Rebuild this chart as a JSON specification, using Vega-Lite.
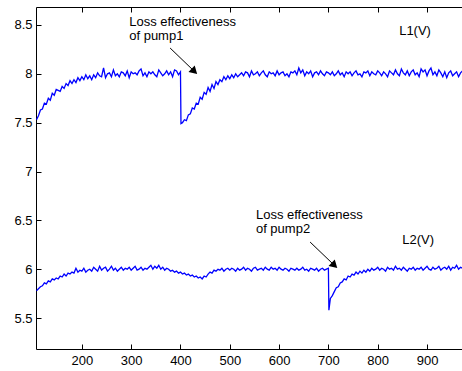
{
  "$schema": "https://vega.github.io/schema/vega-lite/v6.json",
  "width": 428,
  "height": 342,
  "autosize": {"type": "none"},
  "padding": {"left": 36, "top": 7, "right": 0, "bottom": 22},
  "background": "white",
  "config": {
    "view": {"stroke": "black", "strokeWidth": 1},
    "font": "Liberation Sans",
    "axis": {"grid": false, "domain": false, "tickColor": "black", "tickSize": -5, "labelColor": "black", "labelFont": "Liberation Sans", "labelFontSize": 13, "title": null}
  },
  "datasets": {
    "l1": [
      {"x":108,"y":7.53},{"x":112,"y":7.57},{"x":116,"y":7.63},{"x":120,"y":7.64},{"x":124,"y":7.70},{"x":128,"y":7.69},{"x":132,"y":7.75},{"x":136,"y":7.73},{"x":140,"y":7.80},{"x":144,"y":7.78},
      {"x":148,"y":7.84},{"x":152,"y":7.83},{"x":156,"y":7.82},{"x":160,"y":7.87},{"x":164,"y":7.85},{"x":168,"y":7.90},{"x":172,"y":7.88},{"x":176,"y":7.93},{"x":180,"y":7.90},{"x":184,"y":7.94},
      {"x":188,"y":7.91},{"x":192,"y":7.96},{"x":196,"y":7.93},{"x":200,"y":7.97},{"x":204,"y":7.94},{"x":208,"y":7.99},{"x":212,"y":7.95},{"x":216,"y":7.98},{"x":220,"y":7.94},{"x":224,"y":7.99},
      {"x":228,"y":7.96},{"x":232,"y":8.01},{"x":236,"y":7.98},{"x":240,"y":7.97},{"x":244,"y":8.06},{"x":248,"y":7.96},{"x":252,"y":8.00},{"x":256,"y":8.01},{"x":260,"y":7.97},{"x":264,"y":8.04},
      {"x":268,"y":7.98},{"x":272,"y":8.00},{"x":276,"y":7.97},{"x":280,"y":8.02},{"x":284,"y":8.01},{"x":288,"y":7.98},{"x":292,"y":8.03},{"x":296,"y":7.96},{"x":300,"y":8.02},{"x":304,"y":8.00},
      {"x":308,"y":8.01},{"x":312,"y":7.99},{"x":316,"y":8.03},{"x":320,"y":8.05},{"x":324,"y":7.98},{"x":328,"y":8.01},{"x":332,"y":7.97},{"x":336,"y":8.02},{"x":340,"y":8.00},{"x":344,"y":8.02},
      {"x":348,"y":7.99},{"x":352,"y":7.97},{"x":356,"y":8.04},{"x":360,"y":8.01},{"x":364,"y":7.98},{"x":368,"y":8.00},{"x":372,"y":8.03},{"x":376,"y":7.99},{"x":380,"y":8.02},{"x":384,"y":7.97},
      {"x":388,"y":8.04},{"x":392,"y":8.03},{"x":396,"y":7.99},{"x":400,"y":8.02},{"x":401,"y":7.49},{"x":404,"y":7.50},{"x":408,"y":7.53},{"x":412,"y":7.52},{"x":416,"y":7.58},{"x":420,"y":7.59},
      {"x":424,"y":7.65},{"x":428,"y":7.64},{"x":432,"y":7.70},{"x":436,"y":7.69},{"x":440,"y":7.76},{"x":444,"y":7.74},{"x":448,"y":7.81},{"x":452,"y":7.79},{"x":456,"y":7.86},{"x":460,"y":7.82},
      {"x":464,"y":7.89},{"x":468,"y":7.85},{"x":472,"y":7.92},{"x":476,"y":7.89},{"x":480,"y":7.94},{"x":484,"y":7.92},{"x":488,"y":7.97},{"x":492,"y":7.94},{"x":496,"y":7.98},{"x":500,"y":7.95},
      {"x":504,"y":7.99},{"x":508,"y":7.96},{"x":512,"y":8.00},{"x":516,"y":7.97},{"x":520,"y":7.99},{"x":524,"y":8.01},{"x":528,"y":7.98},{"x":532,"y":8.02},{"x":536,"y":8.01},{"x":540,"y":7.97},
      {"x":544,"y":8.03},{"x":548,"y":7.99},{"x":552,"y":8.00},{"x":556,"y":8.02},{"x":560,"y":7.98},{"x":564,"y":8.01},{"x":568,"y":8.03},{"x":572,"y":7.99},{"x":576,"y":7.97},{"x":580,"y":8.02},
      {"x":584,"y":8.00},{"x":588,"y":8.01},{"x":592,"y":7.98},{"x":596,"y":8.03},{"x":600,"y":7.99},{"x":604,"y":8.01},{"x":608,"y":8.02},{"x":612,"y":7.98},{"x":616,"y":8.00},{"x":620,"y":7.97},
      {"x":624,"y":8.02},{"x":628,"y":8.01},{"x":632,"y":8.03},{"x":636,"y":7.99},{"x":640,"y":8.06},{"x":644,"y":8.01},{"x":648,"y":8.04},{"x":652,"y":7.98},{"x":656,"y":8.02},{"x":660,"y":8.00},
      {"x":664,"y":8.03},{"x":668,"y":7.97},{"x":672,"y":8.01},{"x":676,"y":8.02},{"x":680,"y":7.99},{"x":684,"y":8.03},{"x":688,"y":8.00},{"x":692,"y":7.98},{"x":696,"y":8.02},{"x":700,"y":8.01},
      {"x":704,"y":7.99},{"x":708,"y":8.02},{"x":712,"y":7.98},{"x":716,"y":8.00},{"x":720,"y":8.03},{"x":724,"y":7.99},{"x":728,"y":8.01},{"x":732,"y":7.97},{"x":736,"y":8.02},{"x":740,"y":8.00},
      {"x":744,"y":8.02},{"x":748,"y":7.98},{"x":752,"y":8.01},{"x":756,"y":8.03},{"x":760,"y":7.99},{"x":764,"y":8.00},{"x":768,"y":7.97},{"x":772,"y":8.02},{"x":776,"y":8.01},{"x":780,"y":8.03},
      {"x":784,"y":7.98},{"x":788,"y":8.02},{"x":792,"y":8.00},{"x":796,"y":7.99},{"x":800,"y":8.03},{"x":804,"y":8.01},{"x":808,"y":7.98},{"x":812,"y":8.02},{"x":816,"y":8.00},{"x":820,"y":7.97},
      {"x":824,"y":8.03},{"x":828,"y":8.01},{"x":832,"y":7.99},{"x":836,"y":8.04},{"x":840,"y":8.00},{"x":844,"y":7.98},{"x":848,"y":8.05},{"x":852,"y":8.01},{"x":856,"y":7.99},{"x":860,"y":8.03},
      {"x":864,"y":7.98},{"x":868,"y":8.02},{"x":872,"y":8.04},{"x":876,"y":7.99},{"x":880,"y":8.01},{"x":884,"y":7.97},{"x":888,"y":8.05},{"x":892,"y":8.02},{"x":896,"y":8.04},{"x":900,"y":7.98},
      {"x":904,"y":8.03},{"x":908,"y":8.06},{"x":912,"y":7.99},{"x":916,"y":8.02},{"x":920,"y":7.98},{"x":924,"y":8.04},{"x":928,"y":8.01},{"x":932,"y":7.97},{"x":936,"y":8.02},{"x":940,"y":7.96},
      {"x":944,"y":8.01},{"x":948,"y":8.03},{"x":952,"y":7.98},{"x":956,"y":8.00},{"x":960,"y":8.02},{"x":964,"y":7.97},{"x":968,"y":8.01},{"x":972,"y":8.03},{"x":976,"y":7.99}
    ],
    "l2": [
      {"x":108,"y":5.78},{"x":112,"y":5.80},{"x":116,"y":5.82},{"x":120,"y":5.83},{"x":124,"y":5.86},{"x":128,"y":5.85},{"x":132,"y":5.88},{"x":136,"y":5.87},{"x":140,"y":5.90},{"x":144,"y":5.89},
      {"x":148,"y":5.91},{"x":152,"y":5.90},{"x":156,"y":5.93},{"x":160,"y":5.92},{"x":164,"y":5.95},{"x":168,"y":5.93},{"x":172,"y":5.96},{"x":176,"y":5.95},{"x":180,"y":5.97},{"x":184,"y":5.96},
      {"x":188,"y":6.01},{"x":192,"y":5.97},{"x":196,"y":5.99},{"x":200,"y":5.98},{"x":204,"y":6.01},{"x":208,"y":5.97},{"x":212,"y":5.99},{"x":216,"y":6.00},{"x":220,"y":5.98},{"x":224,"y":6.02},
      {"x":228,"y":6.00},{"x":232,"y":5.98},{"x":236,"y":6.03},{"x":240,"y":5.99},{"x":244,"y":6.01},{"x":248,"y":6.02},{"x":252,"y":5.98},{"x":256,"y":6.00},{"x":260,"y":6.03},{"x":264,"y":5.99},
      {"x":268,"y":6.01},{"x":272,"y":5.98},{"x":276,"y":6.00},{"x":280,"y":6.02},{"x":284,"y":5.99},{"x":288,"y":6.01},{"x":292,"y":6.00},{"x":296,"y":6.02},{"x":300,"y":5.99},{"x":304,"y":6.01},
      {"x":308,"y":6.03},{"x":312,"y":5.99},{"x":316,"y":6.00},{"x":320,"y":6.02},{"x":324,"y":5.99},{"x":328,"y":6.01},{"x":332,"y":6.00},{"x":336,"y":6.02},{"x":340,"y":6.04},{"x":344,"y":6.00},
      {"x":348,"y":6.03},{"x":352,"y":6.01},{"x":356,"y":6.04},{"x":360,"y":6.00},{"x":364,"y":6.02},{"x":368,"y":5.99},{"x":372,"y":6.01},{"x":376,"y":6.00},{"x":380,"y":5.98},{"x":384,"y":5.99},
      {"x":388,"y":5.97},{"x":392,"y":5.98},{"x":396,"y":5.96},{"x":400,"y":5.97},{"x":404,"y":5.95},{"x":408,"y":5.96},{"x":412,"y":5.94},{"x":416,"y":5.95},{"x":420,"y":5.93},{"x":424,"y":5.94},
      {"x":428,"y":5.92},{"x":432,"y":5.93},{"x":436,"y":5.91},{"x":440,"y":5.92},{"x":444,"y":5.90},{"x":448,"y":5.93},{"x":452,"y":5.92},{"x":456,"y":5.95},{"x":460,"y":5.97},{"x":464,"y":5.96},
      {"x":468,"y":5.99},{"x":472,"y":5.98},{"x":476,"y":6.00},{"x":480,"y":5.99},{"x":484,"y":6.01},{"x":488,"y":5.98},{"x":492,"y":6.00},{"x":496,"y":6.01},{"x":500,"y":5.99},{"x":504,"y":6.01},
      {"x":508,"y":6.00},{"x":512,"y":5.98},{"x":516,"y":6.01},{"x":520,"y":5.99},{"x":524,"y":6.00},{"x":528,"y":6.02},{"x":532,"y":5.99},{"x":536,"y":6.01},{"x":540,"y":6.00},{"x":544,"y":5.98},
      {"x":548,"y":6.01},{"x":552,"y":6.02},{"x":556,"y":5.99},{"x":560,"y":6.00},{"x":564,"y":6.01},{"x":568,"y":5.99},{"x":572,"y":6.02},{"x":576,"y":6.00},{"x":580,"y":5.99},{"x":584,"y":6.02},
      {"x":588,"y":6.00},{"x":592,"y":6.01},{"x":596,"y":5.99},{"x":600,"y":6.02},{"x":604,"y":6.00},{"x":608,"y":5.99},{"x":612,"y":6.01},{"x":616,"y":6.00},{"x":620,"y":5.98},{"x":624,"y":6.01},
      {"x":628,"y":6.00},{"x":632,"y":5.99},{"x":636,"y":6.01},{"x":640,"y":5.99},{"x":644,"y":6.00},{"x":648,"y":6.02},{"x":652,"y":5.99},{"x":656,"y":6.00},{"x":660,"y":5.98},{"x":664,"y":6.01},
      {"x":668,"y":6.00},{"x":672,"y":5.99},{"x":676,"y":6.01},{"x":680,"y":5.98},{"x":684,"y":6.00},{"x":688,"y":6.01},{"x":692,"y":5.99},{"x":696,"y":6.00},{"x":700,"y":6.01},{"x":701,"y":5.58},
      {"x":704,"y":5.70},{"x":708,"y":5.73},{"x":712,"y":5.77},{"x":716,"y":5.81},{"x":720,"y":5.82},{"x":724,"y":5.86},{"x":728,"y":5.87},{"x":732,"y":5.90},{"x":736,"y":5.89},{"x":740,"y":5.93},
      {"x":744,"y":5.92},{"x":748,"y":5.95},{"x":752,"y":5.94},{"x":756,"y":5.97},{"x":760,"y":5.95},{"x":764,"y":5.98},{"x":768,"y":5.96},{"x":772,"y":5.99},{"x":776,"y":5.97},{"x":780,"y":6.00},
      {"x":784,"y":5.98},{"x":788,"y":6.01},{"x":792,"y":5.99},{"x":796,"y":6.00},{"x":800,"y":6.02},{"x":804,"y":5.99},{"x":808,"y":6.01},{"x":812,"y":6.00},{"x":816,"y":5.98},{"x":820,"y":6.02},
      {"x":824,"y":6.00},{"x":828,"y":6.01},{"x":832,"y":5.99},{"x":836,"y":6.03},{"x":840,"y":6.00},{"x":844,"y":6.01},{"x":848,"y":5.99},{"x":852,"y":6.02},{"x":856,"y":6.00},{"x":860,"y":5.98},
      {"x":864,"y":6.01},{"x":868,"y":6.00},{"x":872,"y":6.02},{"x":876,"y":5.99},{"x":880,"y":6.01},{"x":884,"y":6.00},{"x":888,"y":6.02},{"x":892,"y":5.99},{"x":896,"y":6.01},{"x":900,"y":6.03},
      {"x":904,"y":6.00},{"x":908,"y":5.99},{"x":912,"y":6.02},{"x":916,"y":6.00},{"x":920,"y":6.01},{"x":924,"y":6.03},{"x":928,"y":5.99},{"x":932,"y":6.01},{"x":936,"y":6.02},{"x":940,"y":6.00},
      {"x":944,"y":6.03},{"x":948,"y":5.99},{"x":952,"y":6.02},{"x":956,"y":6.01},{"x":960,"y":6.04},{"x":964,"y":6.00},{"x":968,"y":6.02},{"x":972,"y":6.01},{"x":976,"y":6.03}
    ],
    "notes": [
      {"x":296,"y":8.489,"t":["Loss effectiveness","of pump1"]},
      {"x":553,"y":6.513,"t":["Loss effectiveness","of pump2"]},
      {"x":843.5,"y":8.397,"t":["L1(V)"]},
      {"x":849.6,"y":6.257,"t":["L2(V)"]}
    ],
    "arrows": [
      {"x":379,"y":8.264,"x2":426.3,"y2":8.034},
      {"x":662.9,"y":6.278,"x2":710.4,"y2":6.048}
    ]
  },
  "layer": [
    {
      "data": {"name": "l1"},
      "mark": {"type": "line", "color": "#0000ff", "strokeWidth": 1.3, "clip": true},
      "encoding": {
        "x": {"field": "x", "type": "quantitative", "scale": {"domain": [107, 975], "nice": false, "zero": false},
              "axis": {"orient": "bottom", "values": [200, 300, 400, 500, 600, 700, 800, 900], "labelPadding": 10}},
        "y": {"field": "y", "type": "quantitative", "scale": {"domain": [5.183, 8.684], "nice": false, "zero": false},
              "axis": {"orient": "left", "values": [5.5, 6, 6.5, 7, 7.5, 8, 8.5], "labelPadding": 9, "labelExpr": "'' + datum.value"}}
      }
    },
    {
      "data": {"name": "l2"},
      "mark": {"type": "line", "color": "#0000ff", "strokeWidth": 1.3, "clip": true},
      "encoding": {
        "x": {"field": "x", "type": "quantitative", "axis": {"orient": "top", "values": [200, 300, 400, 500, 600, 700, 800, 900], "labels": false}},
        "y": {"field": "y", "type": "quantitative"}
      }
    },
    {
      "data": {"name": "arrows"},
      "mark": {"type": "rule", "color": "black", "strokeWidth": 1},
      "encoding": {
        "x": {"field": "x", "type": "quantitative", "axis": null},
        "y": {"field": "y", "type": "quantitative"},
        "x2": {"field": "x2"},
        "y2": {"field": "y2"}
      }
    },
    {
      "data": {"name": "arrows"},
      "mark": {"type": "point", "shape": "triangle", "filled": true, "color": "black", "opacity": 1, "size": 80, "angle": 134, "strokeWidth": 0},
      "encoding": {
        "x": {"field": "x2", "type": "quantitative", "axis": null},
        "y": {"field": "y2", "type": "quantitative"}
      }
    },
    {
      "data": {"name": "notes"},
      "mark": {"type": "text", "align": "left", "baseline": "alphabetic", "fontSize": 13, "lineHeight": 14, "color": "black", "font": "Liberation Sans"},
      "encoding": {
        "x": {"field": "x", "type": "quantitative", "axis": null},
        "y": {"field": "y", "type": "quantitative"},
        "text": {"field": "t"}
      }
    }
  ],
  "resolve": {"axis": {"x": "independent"}}
}
